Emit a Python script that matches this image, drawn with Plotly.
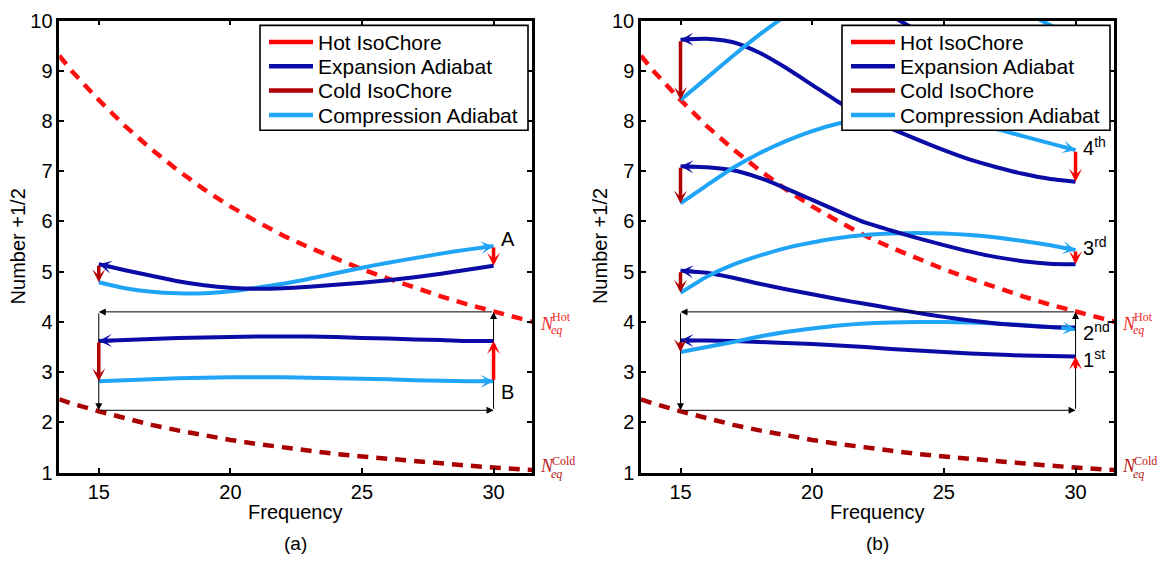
import numpy as np
import plotly.graph_objects as go

# ---------------- data ----------------
F_EQ = [13.5, 14, 15, 16, 17, 18, 19, 20, 21, 22, 23, 24, 25, 26, 27, 28, 29, 30, 31, 31.5]
HOT_EQ = [9.3, 8.98, 8.42, 7.9, 7.44, 7.02, 6.64, 6.3, 6.0, 5.72, 5.48, 5.26, 5.05, 4.86,
          4.68, 4.51, 4.35, 4.2, 4.07, 4.0]
COLD_EQ = [2.46, 2.37, 2.22, 2.08, 1.95, 1.84, 1.74, 1.65, 1.57, 1.5, 1.43, 1.37, 1.32, 1.27,
           1.22, 1.18, 1.14, 1.1, 1.07, 1.05]

F_ADI = [15, 16, 17, 18, 19, 20, 21, 22, 23, 24, 25, 26, 27, 28, 29, 30]

# panel (a): cycle A (upper) and cycle B (lower)
A_COMP_A = [4.79, 4.67, 4.6, 4.57, 4.57, 4.61, 4.68, 4.76, 4.86, 4.97, 5.08, 5.18, 5.27, 5.36, 5.44, 5.51]
A_EXP_A = [5.15, 5.03, 4.92, 4.81, 4.73, 4.68, 4.66, 4.67, 4.7, 4.74, 4.78, 4.83, 4.89, 4.96, 5.04, 5.12]
A_COMP_B = [2.82, 2.84, 2.86, 2.88, 2.89, 2.9, 2.9, 2.9, 2.89, 2.88, 2.87, 2.86, 2.84, 2.83, 2.82, 2.82]
A_EXP_B = [3.62, 3.64, 3.66, 3.68, 3.69, 3.7, 3.71, 3.71, 3.71, 3.7, 3.68, 3.67, 3.65, 3.64, 3.62, 3.62]

# panel (b): successive cycles
B_HOT_START = 3.05
B_EXP = [
    [3.63, 3.63, 3.62, 3.6, 3.58, 3.56, 3.53, 3.5, 3.46, 3.43, 3.4, 3.37, 3.35, 3.33, 3.32, 3.31],
    [5.02, 4.98, 4.88, 4.76, 4.65, 4.55, 4.45, 4.36, 4.27, 4.18, 4.1, 4.03, 3.97, 3.93, 3.9, 3.89],
    [7.1, 7.08, 7.02, 6.87, 6.66, 6.43, 6.2, 5.98, 5.82, 5.67, 5.53, 5.4, 5.29, 5.21, 5.16, 5.15],
    [9.62, 9.64, 9.57, 9.36, 9.06, 8.72, 8.38, 8.08, 7.85, 7.63, 7.42, 7.23, 7.08, 6.95, 6.85, 6.79],
    [12.4, 12.1, 11.8, 11.5, 11.2, 10.95, 10.7, 10.4, 10.1, 9.8, 9.58, 9.38, 9.22, 9.1, 9.0, 8.95],
]
B_COMP = [
    [3.4, 3.5, 3.6, 3.71, 3.8, 3.87, 3.93, 3.97, 3.99, 4.0, 4.0, 3.99, 3.97, 3.94, 3.9, 3.86],
    [4.58, 4.9, 5.14, 5.32, 5.47, 5.58, 5.67, 5.73, 5.76, 5.77, 5.76, 5.73, 5.68, 5.61, 5.53, 5.43],
    [6.36, 6.72, 7.07, 7.36, 7.6, 7.8, 7.95, 8.05, 8.1, 8.1, 8.05, 7.96, 7.84, 7.7, 7.56, 7.42],
    [8.42, 8.86, 9.3, 9.72, 10.1, 10.45, 10.75, 10.95, 11.05, 11.05, 10.95, 10.75, 10.5, 10.2, 9.92, 9.68],
]

BOX_F = [15, 30]
BOX_N = [2.24, 4.2]

X_TICKS = [15, 20, 25, 30]
Y_TICKS = [1, 2, 3, 4, 5, 6, 7, 8, 9, 10]
LEGEND_NAMES = ["Hot IsoChore", "Expansion Adiabat", "Cold IsoChore", "Compression Adiabat"]
ORDINALS = ["1<sup>st</sup>", "2<sup>nd</sup>", "3<sup>rd</sup>", "4<sup>th</sup>"]
ORDINAL_Y = [3.28, 3.8, 5.5, 7.5]
CYCLE_LABELS = ["A", "B"]
CYCLE_LABEL_Y = [5.65, 2.6]

# ---------------- styles ----------------
C_HOT = "#ff0000"
C_EXP = "#0b0ba6"
C_COLD = "#b00000"
C_COMP = "#20a4f6"
C_HOT_LBL = "#ee2a2a"
C_COLD_LBL = "#b81818"
FONT = "Liberation Sans, Arial, Helvetica, sans-serif"
SERIF = "Liberation Serif, Times New Roman, serif"
W_ADI = 4
W_ARR = 3.5
HEAD = 3
HEAD_SIZE = 0.62

W, H = 1170, 573
PANELS = [
    dict(x="x", y="y", left=59.3, right=532.0, tag="(a)"),
    dict(x="x2", y="y2", left=641.0, right=1114.0, tag="(b)"),
]
TOP, BOTTOM = 10.0, 480.0
LEG_W, LEG_TOP, LEG_BOT = 268.0, 15.0, 124.0
LEG_ROWS = [32.3, 57.5, 82.8, 108.2]

fig = go.Figure()
ann = []
shapes = []


def hidden(f, v):
    return v > 10 or (f >= 21 and v >= 7.8)


def arrow(xr, yr, x0, y0, x1, y1, color, width, head=HEAD, size=HEAD_SIZE):
    ann.append(dict(x=x1, y=y1, ax=x0, ay=y0, xref=xr, yref=yr, axref=xr, ayref=yr,
                    text="", showarrow=True, arrowhead=head, arrowsize=size,
                    arrowwidth=width, arrowcolor=color, standoff=0, startstandoff=0))


def adiabat(p, vals, color, direction):
    fig.add_trace(go.Scatter(x=F_ADI, y=vals, mode="lines", xaxis=p["x"], yaxis=p["y"],
                             line=dict(color=color, width=W_ADI, shape="spline", smoothing=0.6),
                             showlegend=False, hoverinfo="skip"))
    if direction == "left":
        hx, hv = F_ADI[0], vals[0]
        tx = hx + 0.6
    else:
        hx, hv = F_ADI[-1], vals[-1]
        tx = hx - 0.6
    if hidden(hx, hv):
        return
    tv = float(np.interp(tx, F_ADI, vals))
    arrow(p["x"], p["y"], tx, tv, hx, hv, color, W_ARR)


def isochore(p, f, v0, v1, color):
    if abs(v1 - v0) < 0.1 or hidden(f, v0) or hidden(f, v1):
        return
    arrow(p["x"], p["y"], f, v0, f, v1, color, W_ARR)


for i, p in enumerate(PANELS):
    # equilibrium curves
    fig.add_trace(go.Scatter(x=F_EQ, y=HOT_EQ, mode="lines", xaxis=p["x"], yaxis=p["y"],
                             line=dict(color="#ff1010", width=4.5, dash="11px,8px"),
                             showlegend=False, hoverinfo="skip"))
    fig.add_trace(go.Scatter(x=F_EQ, y=COLD_EQ, mode="lines", xaxis=p["x"], yaxis=p["y"],
                             line=dict(color="#a80000", width=4.5, dash="11px,8px"),
                             showlegend=False, hoverinfo="skip"))
    # black box
    x0, x1 = BOX_F
    n0, n1 = BOX_N
    arrow(p["x"], p["y"], x0, n0, x1, n0, "black", 1, head=2, size=1.4)
    arrow(p["x"], p["y"], x1, n0, x1, n1, "black", 1, head=2, size=1.4)
    arrow(p["x"], p["y"], x1, n1, x0, n1, "black", 1, head=2, size=1.4)
    arrow(p["x"], p["y"], x0, n1, x0, n0, "black", 1, head=2, size=1.4)

# panel (a) cycles
pa = PANELS[0]
for comp, exp in [(A_COMP_A, A_EXP_A), (A_COMP_B, A_EXP_B)]:
    adiabat(pa, comp, C_COMP, "right")
    adiabat(pa, exp, C_EXP, "left")
    isochore(pa, 30, comp[-1], exp[-1], C_HOT)
    isochore(pa, 15, exp[0], comp[0], C_COLD)
for lbl, yv in zip(CYCLE_LABELS, CYCLE_LABEL_Y):
    ann.append(dict(x=30.2, y=yv, xref="x", yref="y", text=lbl, showarrow=False,
                    xanchor="left", yanchor="middle", font=dict(family=FONT, size=20, color="black")))

# panel (b) cycles
pb = PANELS[1]
for k, exp in enumerate(B_EXP):
    start = B_HOT_START if k == 0 else B_COMP[k - 1][-1]
    isochore(pb, 30, start, exp[-1], C_HOT)
    adiabat(pb, exp, C_EXP, "left")
    if k < len(B_COMP):
        comp = B_COMP[k]
        isochore(pb, 15, exp[0], comp[0], C_COLD)
        adiabat(pb, comp, C_COMP, "right")
for lbl, yv in zip(ORDINALS, ORDINAL_Y):
    ann.append(dict(x=30.2, y=yv, xref="x2", yref="y2", text=lbl, showarrow=False,
                    xanchor="left", yanchor="middle", font=dict(family=FONT, size=20, color="black")))

# legends (boxed, drawn over the curves), N_eq labels, axis titles, panel tags
for p in PANELS:
    lr = p["right"] - 4
    ll = lr - LEG_W
    shapes.append(dict(type="rect", xref="paper", yref="paper", x0=ll / W, x1=lr / W,
                       y0=1 - LEG_BOT / H, y1=1 - LEG_TOP / H, fillcolor="white",
                       line=dict(color="black", width=1.6), layer="above"))
    for name, col, ry in zip(LEGEND_NAMES, [C_HOT, C_EXP, C_COLD, C_COMP], LEG_ROWS):
        shapes.append(dict(type="line", xref="paper", yref="paper", x0=(ll + 9) / W, x1=(ll + 53) / W,
                           y0=1 - ry / H, y1=1 - ry / H, line=dict(color=col, width=4.5), layer="above"))
        ann.append(dict(x=(ll + 56) / W, y=1 - ry / H, xref="paper", yref="paper", text=name,
                        showarrow=False, xanchor="left", yanchor="middle",
                        font=dict(family=FONT, size=21, color="black")))

    nx = p["right"] + 6
    for (ny, sy, by, sup, col) in [(325, 318, 331.5, "Hot", C_HOT_LBL), (473, 467.5, 481, "Cold", C_COLD_LBL)]:
        ann.append(dict(x=nx / W, y=1 - ny / H, xref="paper", yref="paper", text="<i>N</i>",
                        showarrow=False, xanchor="left", yanchor="middle",
                        font=dict(family=SERIF, size=18, color=col)))
        ann.append(dict(x=(nx + 12) / W, y=1 - sy / H, xref="paper", yref="paper", text=sup,
                        showarrow=False, xanchor="left", yanchor="middle",
                        font=dict(family=SERIF, size=12, color=col)))
        ann.append(dict(x=(nx + 11) / W, y=1 - by / H, xref="paper", yref="paper", text="<i>eq</i>",
                        showarrow=False, xanchor="left", yanchor="middle",
                        font=dict(family=SERIF, size=12, color=col)))
    cx = (p["left"] + p["right"]) / 2
    ann.append(dict(x=cx / W, y=1 - 521 / H, xref="paper", yref="paper", text="Frequency",
                    showarrow=False, xanchor="center", yanchor="middle",
                    font=dict(family=FONT, size=20, color="black")))
    ann.append(dict(x=cx / W, y=1 - 554 / H, xref="paper", yref="paper", text=p["tag"],
                    showarrow=False, xanchor="center", yanchor="middle",
                    font=dict(family=FONT, size=19, color="black")))
    ann.append(dict(x=(p["left"] - 41.5) / W, y=1 - 245 / H, xref="paper", yref="paper",
                    text="Number +1/2", textangle=-90, showarrow=False,
                    xanchor="center", yanchor="middle",
                    font=dict(family=FONT, size=20, color="black")))

axis_common = dict(showline=True, linecolor="black", linewidth=2.5, mirror="ticks",
                   ticks="inside", ticklen=5, tickwidth=1.5, tickcolor="black",
                   showgrid=False, zeroline=False, ticklabeloverflow="allow",
                   tickfont=dict(family=FONT, size=20, color="black"))

layout = dict(width=W, height=H, margin=dict(l=0, r=0, t=0, b=0), showlegend=False,
              paper_bgcolor="white", plot_bgcolor="white", annotations=ann, shapes=shapes,
              font=dict(family=FONT, color="black"))
for i, p in enumerate(PANELS):
    sfx = "" if i == 0 else "2"
    layout["xaxis" + sfx] = dict(domain=[p["left"] / W, p["right"] / W], range=[13.5, 31.46],
                                 tickvals=X_TICKS, anchor="y" + sfx, **axis_common)
    layout["yaxis" + sfx] = dict(domain=[1 - BOTTOM / H, 1 - TOP / H], range=[1, 10],
                                 tickvals=Y_TICKS, anchor="x" + sfx, **axis_common)

fig.update_layout(**layout)
fig.write_html("out.html", config={"displayModeBar": False})
